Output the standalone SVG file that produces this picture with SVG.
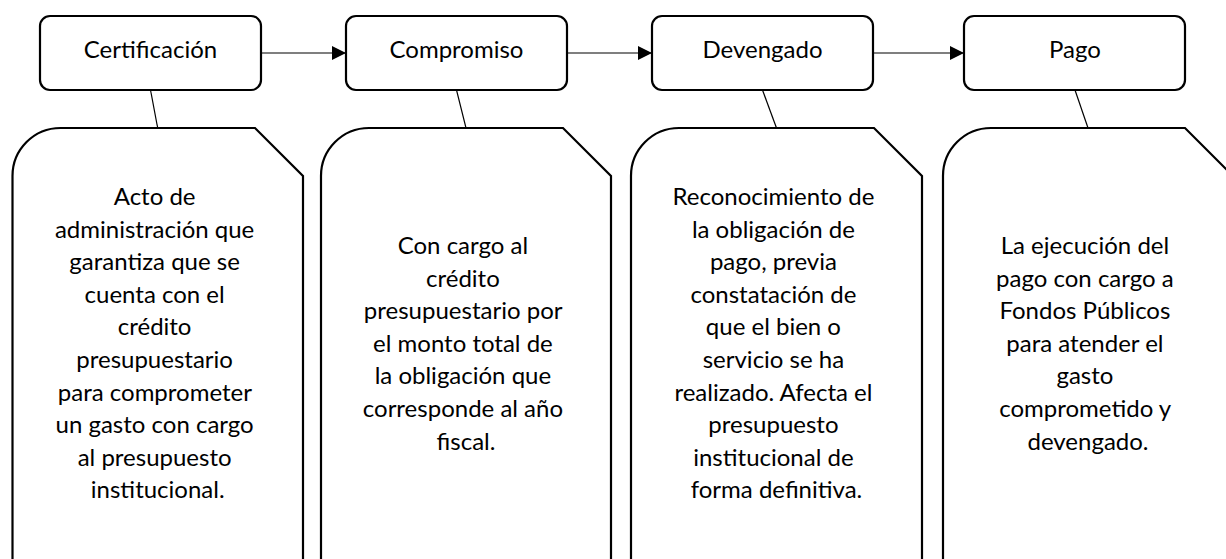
<svg xmlns="http://www.w3.org/2000/svg" width="1226" height="559" viewBox="0 0 1226 559">
<defs>
<marker id="ah" markerWidth="15" markerHeight="14" refX="14" refY="7" orient="auto" markerUnits="userSpaceOnUse">
<path d="M0,0 L14,7 L0,14 Z" fill="#000"/>
</marker>
</defs>
<style>
.box{fill:#fff;stroke:#000;stroke-width:2.2;stroke-linejoin:miter}
.conn{stroke:#000;stroke-width:1.2;fill:none}
.t{font-family:Lato,"Liberation Sans",sans-serif;font-size:24px;fill:#000;text-anchor:middle}
</style>
<rect width="1226" height="559" fill="#fff"/>
<g id="connectors">
<line class="conn" x1="261" y1="53" x2="346" y2="53" marker-end="url(#ah)"/>
<line class="conn" x1="567" y1="53" x2="652" y2="53" marker-end="url(#ah)"/>
<line class="conn" x1="873" y1="53" x2="964" y2="53" marker-end="url(#ah)"/>
<line class="conn" x1="150.5" y1="90" x2="157.7" y2="128"/>
<line class="conn" x1="456.5" y1="90" x2="466" y2="128"/>
<line class="conn" x1="762.5" y1="90" x2="776.5" y2="128"/>
<line class="conn" x1="1075" y1="90" x2="1088" y2="128"/>
</g>
<g id="n-certificacion">
<rect class="box" x="40" y="16" width="221" height="74" rx="10"/>
<text class="t" x="150.5" y="57.5">Certificación</text>
</g>
<g id="n-compromiso">
<rect class="box" x="346" y="16" width="221" height="74" rx="10"/>
<text class="t" x="456.5" y="57.5">Compromiso</text>
</g>
<g id="n-devengado">
<rect class="box" x="652" y="16" width="221" height="74" rx="10"/>
<text class="t" x="762.5" y="57.5">Devengado</text>
</g>
<g id="n-pago">
<rect class="box" x="964" y="16" width="221" height="74" rx="10"/>
<text class="t" x="1075" y="57.5">Pago</text>
</g>
<g id="d-certificacion">
<path class="box" d="M12.5,580 L12.5,176 A48,48 0 0 1 60.5,128 L255,128 L303,176 L303,580"/>
<text class="t">
<tspan x="157.7" y="205">Acto de</tspan>
<tspan x="157.7" y="237.6">administración que</tspan>
<tspan x="157.7" y="270.2">garantiza que se</tspan>
<tspan x="157.7" y="302.8">cuenta con el</tspan>
<tspan x="157.7" y="335.4">crédito</tspan>
<tspan x="157.7" y="368">presupuestario</tspan>
<tspan x="157.7" y="400.6">para comprometer</tspan>
<tspan x="157.7" y="433.2">un gasto con cargo</tspan>
<tspan x="157.7" y="465.8">al presupuesto</tspan>
<tspan x="157.7" y="498.4">institucional.</tspan>
</text>
</g>
<g id="d-compromiso">
<path class="box" d="M321,580 L321,176 A48,48 0 0 1 369,128 L563,128 L611,176 L611,580"/>
<text class="t">
<tspan x="466" y="254">Con cargo al</tspan>
<tspan x="466" y="286.6">crédito</tspan>
<tspan x="466" y="319.2">presupuestario por</tspan>
<tspan x="466" y="351.8">el monto total de</tspan>
<tspan x="466" y="384.4">la obligación que</tspan>
<tspan x="466" y="417">corresponde al año</tspan>
<tspan x="466" y="449.6">fiscal.</tspan>
</text>
</g>
<g id="d-devengado">
<path class="box" d="M631,580 L631,176 A48,48 0 0 1 679,128 L874,128 L922,176 L922,580"/>
<text class="t">
<tspan x="776.5" y="205">Reconocimiento de</tspan>
<tspan x="776.5" y="237.6">la obligación de</tspan>
<tspan x="776.5" y="270.2">pago, previa</tspan>
<tspan x="776.5" y="302.8">constatación de</tspan>
<tspan x="776.5" y="335.4">que el bien o</tspan>
<tspan x="776.5" y="368">servicio se ha</tspan>
<tspan x="776.5" y="400.6">realizado. Afecta el</tspan>
<tspan x="776.5" y="433.2">presupuesto</tspan>
<tspan x="776.5" y="465.8">institucional de</tspan>
<tspan x="776.5" y="498.4">forma definitiva.</tspan>
</text>
</g>
<g id="d-pago">
<path class="box" d="M943,580 L943,176 A48,48 0 0 1 991,128 L1185,128 L1233,176 L1233,580"/>
<text class="t">
<tspan x="1088" y="254">La ejecución del</tspan>
<tspan x="1088" y="286.6">pago con cargo a</tspan>
<tspan x="1088" y="319.2">Fondos Públicos</tspan>
<tspan x="1088" y="351.8">para atender el</tspan>
<tspan x="1088" y="384.4">gasto</tspan>
<tspan x="1088" y="417">comprometido y</tspan>
<tspan x="1088" y="449.6">devengado.</tspan>
</text>
</g>
</svg>
